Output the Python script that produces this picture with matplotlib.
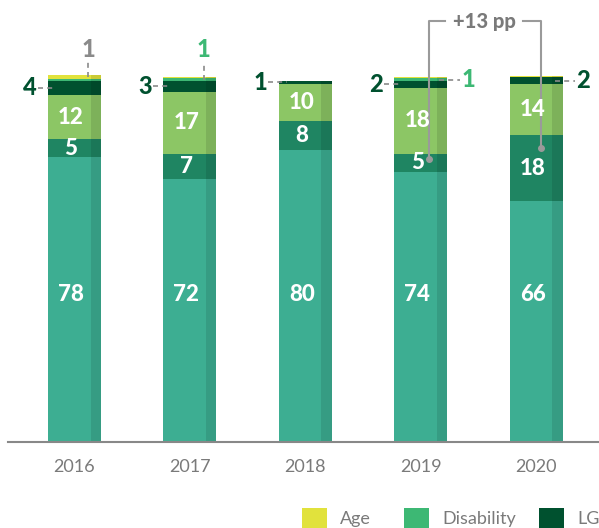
import matplotlib.pyplot as plt
from matplotlib.patches import Rectangle

plt.rcParams['font.family'] = ['Lato', 'DejaVu Sans']

# shares in %, stacked bottom to top
years = ['2016', '2017', '2018', '2019', '2020']
base = [78, 72, 80, 74, 66]
mid = [5, 7, 8, 5, 18]
upper = [12, 17, 10, 18, 14]
lg = [4, 3, 1, 2, 2]
disability = [0.5, 0.6, 0, 0.6, 0]
age = [1, 0.5, 0, 0.3, 0.3]

series = [base, mid, upper, lg, disability, age]
colors = ['#3dae92', '#1f8562', '#8cc665', '#00512f', '#3db874', '#e1e23c']
inside = [0, 1, 2]  # series labelled inside the bar

# small labels outside bars: (year index, series index, side, text colour)
outside = [(0, 3, 'left', '#00512f'), (0, 5, 'top', '#8a8a8a'),
           (1, 3, 'left', '#00512f'), (1, 4, 'top', '#3db874'),
           (2, 3, 'left', '#00512f'),
           (3, 3, 'left', '#00512f'), (3, 4, 'right', '#3db874'),
           (4, 3, 'right', '#00512f')]

fig = plt.figure(figsize=(5.99, 5.28), dpi=100)
ax = fig.add_axes([8 / 599, 86 / 528, 591 / 599, 442 / 528])

x = list(range(len(years)))
w = 0.46
bottoms = [0] * len(years)
segs = []
for vals, c in zip(series, colors):
    ax.bar(x, vals, w, bottom=bottoms, color=c, linewidth=0)
    # darker strip on the right side of each bar
    ax.bar([i + w / 2 - 0.045 for i in x], vals, 0.09, bottom=bottoms,
           color='black', alpha=0.1, linewidth=0)
    segs.append(list(bottoms))
    bottoms = [b + v for b, v in zip(bottoms, vals)]

for s in inside:
    for i in x:
        # base labels sit at one common height
        y = 40.5 if s == 0 else segs[s][i] + series[s][i] / 2
        ax.text(i - 0.03, y, str(series[s][i]), ha='center', va='center',
                color='white', fontsize=16, fontweight='black')

dash = dict(color='#8a8a8a', lw=1.2, ls=(0, (3, 2.5)))
for i, s, side, col in outside:
    v = series[s][i]
    y = segs[s][i] + max(v, 0.5) / 2
    if side == 'left':
        ax.plot([i - 0.32, i - 0.16], [y, y], **dash)
        ax.text(i - 0.39, y, f'{v:.0f}', ha='center', va='center',
                color=col, fontsize=17, fontweight='black')
    elif side == 'right':
        ax.plot([i + 0.16, i + 0.34], [y, y], **dash)
        ax.text(i + 0.41, y, f'{v:.0f}', ha='center', va='center',
                color=col, fontsize=17, fontweight='black')
    else:
        ax.plot([i + 0.12, i + 0.12], [y, 104], **dash)
        ax.text(i + 0.12, 107.5, f'{v:.0f}', ha='center', va='center',
                color=col, fontsize=17, fontweight='black')

# +13 pp bracket between 2019 and 2020
y1 = segs[1][3] + mid[3] / 2 + 1
y2 = segs[1][4] + mid[4] / 2 + 5.5
ytop = 115.3
gc = '#9a9a9a'
ax.plot([3.07, 3.07, 3.21], [y1, ytop, ytop], color=gc, lw=1.5)
ax.plot([3.89, 4.04, 4.04], [ytop, ytop, y2], color=gc, lw=1.5)
ax.plot([3.07, 4.04], [y1, y2], 'o', color=gc, ms=4)
ax.text(3.55, ytop, '+13 pp', ha='center', va='center', color='#7a7a7a',
        fontsize=14.5, fontweight='black')

ax.set_xlim(-0.576, 4.545)
ax.set_ylim(0, 121.1)
ax.set_xticks(x)
ax.set_xticklabels(years, color='#7a7a7a', fontsize=13)
ax.tick_params(axis='x', length=0, pad=12)
ax.set_yticks([])
for sp in ['left', 'right', 'top']:
    ax.spines[sp].set_visible(False)
ax.spines['bottom'].set_color('#888888')
ax.spines['bottom'].set_linewidth(1.5)

# legend (partly cut by the right edge)
legend_items = [('Age', 5, 302), ('Disability', 4, 404), ('LG', 3, 539)]
for name, s, px in legend_items:
    fig.add_artist(Rectangle((px / 599, 0), 25 / 599, 20 / 528,
                             transform=fig.transFigure, color=colors[s], lw=0))
    fig.text((px + 38) / 599, 9 / 528, name, color='#7a7a7a', fontsize=13,
             va='center', ha='left')

fig.savefig('out.png', dpi=100)
